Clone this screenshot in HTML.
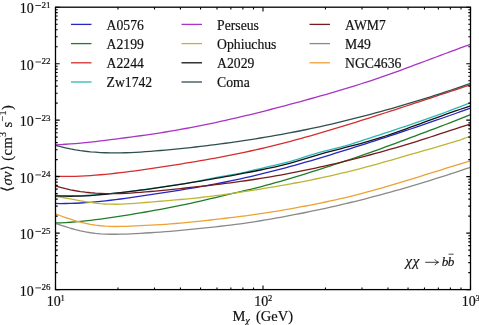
<!DOCTYPE html>
<html><head><meta charset="utf-8"><style>
html,body{margin:0;padding:0;background:#fff;width:479px;height:325px;overflow:hidden}
svg{display:block;will-change:transform;filter:blur(0.3px)}
text{font-family:"Liberation Serif",serif;fill:#111;stroke:#111;stroke-width:0.18px}
</style></head><body>
<svg width="479" height="325" viewBox="0 0 479 325">
<g fill="none" stroke-width="1.3" stroke-linejoin="round">
<path d="M55.50,203.45 L60.50,203.53 L65.50,203.51 L70.50,203.41 L75.50,203.23 L80.50,202.98 L85.50,202.66 L90.50,202.28 L95.50,201.84 L100.50,201.35 L105.50,200.81 L110.50,200.24 L115.50,199.63 L120.50,199.00 L125.50,198.33 L130.50,197.65 L135.50,196.94 L140.50,196.21 L145.50,195.47 L150.50,194.72 L155.50,193.96 L160.50,193.19 L165.50,192.41 L170.50,191.63 L175.50,190.84 L180.50,190.04 L185.50,189.23 L190.50,188.40 L195.50,187.55 L200.50,186.68 L205.50,185.80 L210.50,184.89 L215.50,183.95 L220.50,182.99 L225.50,181.99 L230.50,180.97 L235.50,179.92 L240.50,178.83 L245.50,177.71 L250.50,176.56 L255.50,175.38 L260.50,174.17 L265.50,172.94 L270.50,171.69 L275.50,170.42 L280.50,169.11 L285.50,167.79 L290.50,166.43 L295.50,165.05 L300.50,163.64 L305.50,162.21 L310.50,160.76 L315.50,159.29 L320.50,157.80 L325.50,156.30 L330.50,154.78 L335.50,153.24 L340.50,151.70 L345.50,150.14 L350.50,148.57 L355.50,146.98 L360.50,145.39 L365.50,143.79 L370.50,142.18 L375.50,140.56 L380.50,138.93 L385.50,137.30 L390.50,135.66 L395.50,134.01 L400.50,132.35 L405.50,130.68 L410.50,129.00 L415.50,127.32 L420.50,125.62 L425.50,123.92 L430.50,122.20 L435.50,120.48 L440.50,118.75 L445.50,117.01 L450.50,115.26 L455.50,113.50 L460.50,111.73 L465.50,109.95 L470.50,108.16" stroke="#2626c0"/>
<path d="M55.50,222.99 L60.50,222.82 L65.50,222.57 L70.50,222.25 L75.50,221.86 L80.50,221.41 L85.50,220.89 L90.50,220.33 L95.50,219.72 L100.50,219.06 L105.50,218.37 L110.50,217.65 L115.50,216.91 L120.50,216.14 L125.50,215.35 L130.50,214.53 L135.50,213.70 L140.50,212.85 L145.50,211.99 L150.50,211.10 L155.50,210.21 L160.50,209.30 L165.50,208.38 L170.50,207.44 L175.50,206.48 L180.50,205.48 L185.50,204.45 L190.50,203.37 L195.50,202.24 L200.50,201.08 L205.50,199.89 L210.50,198.70 L215.50,197.52 L220.50,196.34 L225.50,195.16 L230.50,193.99 L235.50,192.82 L240.50,191.64 L245.50,190.46 L250.50,189.26 L255.50,188.03 L260.50,186.77 L265.50,185.47 L270.50,184.12 L275.50,182.73 L280.50,181.31 L285.50,179.85 L290.50,178.36 L295.50,176.85 L300.50,175.32 L305.50,173.76 L310.50,172.19 L315.50,170.61 L320.50,169.02 L325.50,167.42 L330.50,165.81 L335.50,164.19 L340.50,162.56 L345.50,160.91 L350.50,159.25 L355.50,157.56 L360.50,155.86 L365.50,154.13 L370.50,152.38 L375.50,150.60 L380.50,148.80 L385.50,146.98 L390.50,145.14 L395.50,143.28 L400.50,141.42 L405.50,139.55 L410.50,137.67 L415.50,135.79 L420.50,133.92 L425.50,132.04 L430.50,130.17 L435.50,128.30 L440.50,126.41 L445.50,124.51 L450.50,122.60 L455.50,120.67 L460.50,118.71 L465.50,116.72 L470.50,114.69" stroke="#1f7d26"/>
<path d="M55.50,176.27 L60.50,176.39 L65.50,176.43 L70.50,176.39 L75.50,176.28 L80.50,176.09 L85.50,175.85 L90.50,175.54 L95.50,175.17 L100.50,174.75 L105.50,174.29 L110.50,173.79 L115.50,173.25 L120.50,172.67 L125.50,172.07 L130.50,171.43 L135.50,170.77 L140.50,170.08 L145.50,169.38 L150.50,168.65 L155.50,167.91 L160.50,167.16 L165.50,166.39 L170.50,165.62 L175.50,164.83 L180.50,164.03 L185.50,163.22 L190.50,162.40 L195.50,161.55 L200.50,160.70 L205.50,159.82 L210.50,158.93 L215.50,158.02 L220.50,157.10 L225.50,156.15 L230.50,155.17 L235.50,154.17 L240.50,153.15 L245.50,152.09 L250.50,151.01 L255.50,149.89 L260.50,148.75 L265.50,147.57 L270.50,146.37 L275.50,145.13 L280.50,143.87 L285.50,142.58 L290.50,141.26 L295.50,139.92 L300.50,138.56 L305.50,137.17 L310.50,135.77 L315.50,134.34 L320.50,132.89 L325.50,131.42 L330.50,129.94 L335.50,128.44 L340.50,126.92 L345.50,125.39 L350.50,123.85 L355.50,122.29 L360.50,120.72 L365.50,119.15 L370.50,117.56 L375.50,115.96 L380.50,114.36 L385.50,112.75 L390.50,111.13 L395.50,109.51 L400.50,107.88 L405.50,106.25 L410.50,104.61 L415.50,102.97 L420.50,101.33 L425.50,99.68 L430.50,98.03 L435.50,96.38 L440.50,94.73 L445.50,93.08 L450.50,91.43 L455.50,89.78 L460.50,88.13 L465.50,86.48 L470.50,84.83" stroke="#d42e2e"/>
<path d="M55.50,195.35 L60.50,195.59 L65.50,195.73 L70.50,195.79 L75.50,195.76 L80.50,195.66 L85.50,195.48 L90.50,195.23 L95.50,194.92 L100.50,194.55 L105.50,194.12 L110.50,193.65 L115.50,193.12 L120.50,192.56 L125.50,191.96 L130.50,191.33 L135.50,190.68 L140.50,190.00 L145.50,189.30 L150.50,188.59 L155.50,187.87 L160.50,187.15 L165.50,186.42 L170.50,185.69 L175.50,184.95 L180.50,184.18 L185.50,183.40 L190.50,182.57 L195.50,181.71 L200.50,180.75 L205.50,179.70 L210.50,178.63 L215.50,177.62 L220.50,176.67 L225.50,175.77 L230.50,174.90 L235.50,174.04 L240.50,173.12 L245.50,172.06 L250.50,170.91 L255.50,169.72 L260.50,168.53 L265.50,167.38 L270.50,166.24 L275.50,165.10 L280.50,163.91 L285.50,162.65 L290.50,161.29 L295.50,159.82 L300.50,158.27 L305.50,156.68 L310.50,155.11 L315.50,153.60 L320.50,152.19 L325.50,150.90 L330.50,149.69 L335.50,148.47 L340.50,147.18 L345.50,145.76 L350.50,144.26 L355.50,142.69 L360.50,141.09 L365.50,139.47 L370.50,137.83 L375.50,136.19 L380.50,134.56 L385.50,132.92 L390.50,131.27 L395.50,129.62 L400.50,127.96 L405.50,126.29 L410.50,124.60 L415.50,122.90 L420.50,121.18 L425.50,119.44 L430.50,117.68 L435.50,115.90 L440.50,114.09 L445.50,112.25 L450.50,110.37 L455.50,108.47 L460.50,106.53 L465.50,104.55 L470.50,102.54" stroke="#2cb6b6"/>
<path d="M55.50,144.81 L60.50,144.53 L65.50,144.24 L70.50,143.92 L75.50,143.56 L80.50,143.14 L85.50,142.66 L90.50,142.13 L95.50,141.56 L100.50,140.95 L105.50,140.32 L110.50,139.69 L115.50,139.05 L120.50,138.40 L125.50,137.75 L130.50,137.10 L135.50,136.43 L140.50,135.74 L145.50,135.04 L150.50,134.32 L155.50,133.57 L160.50,132.80 L165.50,132.00 L170.50,131.17 L175.50,130.31 L180.50,129.42 L185.50,128.51 L190.50,127.58 L195.50,126.61 L200.50,125.62 L205.50,124.61 L210.50,123.58 L215.50,122.52 L220.50,121.44 L225.50,120.33 L230.50,119.21 L235.50,118.06 L240.50,116.90 L245.50,115.71 L250.50,114.51 L255.50,113.28 L260.50,112.04 L265.50,110.78 L270.50,109.50 L275.50,108.21 L280.50,106.90 L285.50,105.58 L290.50,104.24 L295.50,102.89 L300.50,101.52 L305.50,100.14 L310.50,98.75 L315.50,97.35 L320.50,95.93 L325.50,94.51 L330.50,93.07 L335.50,91.61 L340.50,90.14 L345.50,88.64 L350.50,87.12 L355.50,85.58 L360.50,84.00 L365.50,82.40 L370.50,80.76 L375.50,79.08 L380.50,77.37 L385.50,75.63 L390.50,73.87 L395.50,72.08 L400.50,70.27 L405.50,68.44 L410.50,66.59 L415.50,64.73 L420.50,62.87 L425.50,60.99 L430.50,59.12 L435.50,57.24 L440.50,55.36 L445.50,53.49 L450.50,51.63 L455.50,49.78 L460.50,47.94 L465.50,46.12 L470.50,44.31" stroke="#a834c4"/>
<path d="M55.50,196.28 L60.50,197.09 L65.50,198.01 L70.50,198.98 L75.50,199.96 L80.50,200.89 L85.50,201.74 L90.50,202.48 L95.50,203.12 L100.50,203.62 L105.50,203.98 L110.50,204.19 L115.50,204.23 L120.50,204.14 L125.50,203.94 L130.50,203.65 L135.50,203.29 L140.50,202.91 L145.50,202.51 L150.50,202.10 L155.50,201.68 L160.50,201.26 L165.50,200.83 L170.50,200.40 L175.50,199.96 L180.50,199.50 L185.50,199.03 L190.50,198.54 L195.50,198.03 L200.50,197.50 L205.50,196.93 L210.50,196.34 L215.50,195.71 L220.50,195.06 L225.50,194.37 L230.50,193.66 L235.50,192.93 L240.50,192.18 L245.50,191.41 L250.50,190.63 L255.50,189.83 L260.50,189.03 L265.50,188.22 L270.50,187.40 L275.50,186.56 L280.50,185.71 L285.50,184.83 L290.50,183.93 L295.50,183.00 L300.50,182.04 L305.50,181.05 L310.50,180.04 L315.50,179.01 L320.50,177.95 L325.50,176.87 L330.50,175.76 L335.50,174.63 L340.50,173.47 L345.50,172.29 L350.50,171.07 L355.50,169.83 L360.50,168.55 L365.50,167.24 L370.50,165.90 L375.50,164.52 L380.50,163.12 L385.50,161.70 L390.50,160.26 L395.50,158.81 L400.50,157.35 L405.50,155.90 L410.50,154.46 L415.50,153.02 L420.50,151.60 L425.50,150.19 L430.50,148.78 L435.50,147.36 L440.50,145.93 L445.50,144.48 L450.50,142.98 L455.50,141.43 L460.50,139.78 L465.50,137.98 L470.50,135.98" stroke="#bcb634"/>
<path d="M55.50,195.83 L60.50,196.06 L65.50,196.21 L70.50,196.25 L75.50,196.21 L80.50,196.07 L85.50,195.84 L90.50,195.53 L95.50,195.15 L100.50,194.72 L105.50,194.24 L110.50,193.72 L115.50,193.19 L120.50,192.63 L125.50,192.05 L130.50,191.45 L135.50,190.82 L140.50,190.18 L145.50,189.52 L150.50,188.83 L155.50,188.13 L160.50,187.41 L165.50,186.67 L170.50,185.91 L175.50,185.13 L180.50,184.34 L185.50,183.54 L190.50,182.72 L195.50,181.89 L200.50,181.04 L205.50,180.19 L210.50,179.33 L215.50,178.46 L220.50,177.57 L225.50,176.68 L230.50,175.78 L235.50,174.86 L240.50,173.92 L245.50,172.97 L250.50,172.00 L255.50,171.01 L260.50,170.00 L265.50,168.96 L270.50,167.89 L275.50,166.78 L280.50,165.60 L285.50,164.34 L290.50,163.01 L295.50,161.58 L300.50,160.09 L305.50,158.57 L310.50,157.04 L315.50,155.53 L320.50,154.07 L325.50,152.68 L330.50,151.34 L335.50,150.04 L340.50,148.76 L345.50,147.49 L350.50,146.21 L355.50,144.91 L360.50,143.57 L365.50,142.18 L370.50,140.73 L375.50,139.21 L380.50,137.63 L385.50,136.00 L390.50,134.31 L395.50,132.58 L400.50,130.82 L405.50,129.03 L410.50,127.22 L415.50,125.39 L420.50,123.56 L425.50,121.73 L430.50,119.90 L435.50,118.08 L440.50,116.27 L445.50,114.48 L450.50,112.71 L455.50,110.96 L460.50,109.24 L465.50,107.55 L470.50,105.90" stroke="#141414"/>
<path d="M55.50,145.26 L60.50,146.63 L65.50,147.84 L70.50,148.90 L75.50,149.82 L80.50,150.60 L85.50,151.26 L90.50,151.80 L95.50,152.22 L100.50,152.54 L105.50,152.76 L110.50,152.88 L115.50,152.92 L120.50,152.88 L125.50,152.76 L130.50,152.58 L135.50,152.34 L140.50,152.05 L145.50,151.72 L150.50,151.35 L155.50,150.94 L160.50,150.51 L165.50,150.07 L170.50,149.60 L175.50,149.12 L180.50,148.61 L185.50,148.09 L190.50,147.55 L195.50,146.99 L200.50,146.41 L205.50,145.82 L210.50,145.20 L215.50,144.57 L220.50,143.91 L225.50,143.24 L230.50,142.55 L235.50,141.84 L240.50,141.11 L245.50,140.36 L250.50,139.59 L255.50,138.80 L260.50,137.99 L265.50,137.16 L270.50,136.31 L275.50,135.44 L280.50,134.55 L285.50,133.64 L290.50,132.70 L295.50,131.74 L300.50,130.75 L305.50,129.74 L310.50,128.71 L315.50,127.64 L320.50,126.56 L325.50,125.44 L330.50,124.30 L335.50,123.13 L340.50,121.94 L345.50,120.72 L350.50,119.48 L355.50,118.22 L360.50,116.93 L365.50,115.62 L370.50,114.29 L375.50,112.94 L380.50,111.57 L385.50,110.18 L390.50,108.77 L395.50,107.34 L400.50,105.89 L405.50,104.42 L410.50,102.93 L415.50,101.42 L420.50,99.88 L425.50,98.33 L430.50,96.76 L435.50,95.17 L440.50,93.55 L445.50,91.91 L450.50,90.25 L455.50,88.57 L460.50,86.86 L465.50,85.13 L470.50,83.38" stroke="#2f4f4f"/>
<path d="M55.50,185.91 L60.50,187.37 L65.50,188.66 L70.50,189.78 L75.50,190.75 L80.50,191.56 L85.50,192.23 L90.50,192.76 L95.50,193.16 L100.50,193.44 L105.50,193.61 L110.50,193.67 L115.50,193.63 L120.50,193.50 L125.50,193.30 L130.50,193.03 L135.50,192.70 L140.50,192.34 L145.50,191.94 L150.50,191.51 L155.50,191.06 L160.50,190.58 L165.50,190.09 L170.50,189.58 L175.50,189.06 L180.50,188.54 L185.50,188.00 L190.50,187.47 L195.50,186.93 L200.50,186.39 L205.50,185.84 L210.50,185.27 L215.50,184.68 L220.50,184.08 L225.50,183.46 L230.50,182.81 L235.50,182.14 L240.50,181.45 L245.50,180.74 L250.50,180.00 L255.50,179.24 L260.50,178.45 L265.50,177.63 L270.50,176.79 L275.50,175.92 L280.50,175.03 L285.50,174.11 L290.50,173.17 L295.50,172.19 L300.50,171.20 L305.50,170.18 L310.50,169.13 L315.50,168.06 L320.50,166.97 L325.50,165.85 L330.50,164.71 L335.50,163.55 L340.50,162.36 L345.50,161.15 L350.50,159.91 L355.50,158.66 L360.50,157.38 L365.50,156.08 L370.50,154.75 L375.50,153.41 L380.50,152.04 L385.50,150.65 L390.50,149.24 L395.50,147.80 L400.50,146.33 L405.50,144.84 L410.50,143.33 L415.50,141.78 L420.50,140.21 L425.50,138.62 L430.50,137.00 L435.50,135.36 L440.50,133.71 L445.50,132.06 L450.50,130.41 L455.50,128.77 L460.50,127.14 L465.50,125.53 L470.50,123.94" stroke="#761c1c"/>
<path d="M55.50,223.40 L60.50,225.06 L65.50,226.70 L70.50,228.25 L75.50,229.67 L80.50,230.91 L85.50,231.93 L90.50,232.74 L95.50,233.36 L100.50,233.80 L105.50,234.09 L110.50,234.24 L115.50,234.26 L120.50,234.19 L125.50,234.03 L130.50,233.82 L135.50,233.56 L140.50,233.29 L145.50,233.01 L150.50,232.73 L155.50,232.42 L160.50,232.08 L165.50,231.70 L170.50,231.28 L175.50,230.83 L180.50,230.36 L185.50,229.88 L190.50,229.38 L195.50,228.87 L200.50,228.36 L205.50,227.85 L210.50,227.33 L215.50,226.80 L220.50,226.25 L225.50,225.69 L230.50,225.10 L235.50,224.47 L240.50,223.80 L245.50,223.09 L250.50,222.34 L255.50,221.55 L260.50,220.74 L265.50,219.90 L270.50,219.05 L275.50,218.18 L280.50,217.28 L285.50,216.36 L290.50,215.43 L295.50,214.47 L300.50,213.49 L305.50,212.49 L310.50,211.47 L315.50,210.42 L320.50,209.36 L325.50,208.27 L330.50,207.16 L335.50,206.03 L340.50,204.88 L345.50,203.70 L350.50,202.50 L355.50,201.28 L360.50,200.04 L365.50,198.77 L370.50,197.48 L375.50,196.17 L380.50,194.83 L385.50,193.47 L390.50,192.09 L395.50,190.69 L400.50,189.26 L405.50,187.82 L410.50,186.35 L415.50,184.87 L420.50,183.36 L425.50,181.83 L430.50,180.29 L435.50,178.73 L440.50,177.14 L445.50,175.54 L450.50,173.93 L455.50,172.29 L460.50,170.64 L465.50,168.97 L470.50,167.28" stroke="#8a8a8a"/>
<path d="M55.50,213.96 L60.50,215.76 L65.50,217.54 L70.50,219.24 L75.50,220.82 L80.50,222.22 L85.50,223.42 L90.50,224.40 L95.50,225.18 L100.50,225.77 L105.50,226.18 L110.50,226.42 L115.50,226.50 L120.50,226.45 L125.50,226.30 L130.50,226.09 L135.50,225.84 L140.50,225.59 L145.50,225.35 L150.50,225.12 L155.50,224.88 L160.50,224.60 L165.50,224.28 L170.50,223.92 L175.50,223.52 L180.50,223.09 L185.50,222.62 L190.50,222.13 L195.50,221.61 L200.50,221.08 L205.50,220.54 L210.50,219.98 L215.50,219.42 L220.50,218.84 L225.50,218.26 L230.50,217.66 L235.50,217.05 L240.50,216.42 L245.50,215.77 L250.50,215.10 L255.50,214.41 L260.50,213.68 L265.50,212.93 L270.50,212.16 L275.50,211.35 L280.50,210.52 L285.50,209.67 L290.50,208.79 L295.50,207.88 L300.50,206.95 L305.50,206.00 L310.50,205.03 L315.50,204.04 L320.50,203.03 L325.50,202.00 L330.50,200.94 L335.50,199.85 L340.50,198.73 L345.50,197.57 L350.50,196.36 L355.50,195.10 L360.50,193.79 L365.50,192.46 L370.50,191.09 L375.50,189.69 L380.50,188.28 L385.50,186.84 L390.50,185.39 L395.50,183.92 L400.50,182.42 L405.50,180.92 L410.50,179.39 L415.50,177.85 L420.50,176.30 L425.50,174.73 L430.50,173.16 L435.50,171.59 L440.50,170.01 L445.50,168.44 L450.50,166.89 L455.50,165.34 L460.50,163.82 L465.50,162.32 L470.50,160.85" stroke="#eca234"/>
</g>
<g fill="none" stroke-width="1.3">
<path d="M71,24.4 h20.5" stroke="#2626c0"/>
<path d="M71,43.6 h20.5" stroke="#1f7d26"/>
<path d="M71,62.8 h20.5" stroke="#d42e2e"/>
<path d="M71,82.0 h20.5" stroke="#2cb6b6"/>
<path d="M181.5,24.4 h20.5" stroke="#a834c4"/>
<path d="M181.5,43.6 h20.5" stroke="#bcb634"/>
<path d="M181.5,62.8 h20.5" stroke="#141414"/>
<path d="M181.5,82.0 h20.5" stroke="#2f4f4f"/>
<path d="M309.5,24.4 h20.5" stroke="#761c1c"/>
<path d="M309.5,43.6 h20.5" stroke="#8a8a8a"/>
<path d="M309.5,62.8 h20.5" stroke="#eca234"/>
</g>
<text x="106.6" y="29.60" font-size="13.7">A0576</text>
<text x="106.6" y="48.80" font-size="13.7">A2199</text>
<text x="106.6" y="68.00" font-size="13.7">A2244</text>
<text x="106.6" y="87.20" font-size="13.7">Zw1742</text>
<text x="217.1" y="29.60" font-size="13.7">Perseus</text>
<text x="217.1" y="48.80" font-size="13.7">Ophiuchus</text>
<text x="217.1" y="68.00" font-size="13.7">A2029</text>
<text x="217.1" y="87.20" font-size="13.7">Coma</text>
<text x="345.1" y="29.60" font-size="13.7">AWM7</text>
<text x="345.1" y="48.80" font-size="13.7">M49</text>
<text x="345.1" y="68.00" font-size="13.7">NGC4636</text>
<path d="M55.50,289.6 v-4.2 M55.50,7.2 v4.2 M263.00,289.6 v-4.2 M263.00,7.2 v4.2 M470.50,289.6 v-4.2 M470.50,7.2 v4.2 M117.96,289.6 v-2.2 M117.96,7.2 v2.2 M154.50,289.6 v-2.2 M154.50,7.2 v2.2 M180.43,289.6 v-2.2 M180.43,7.2 v2.2 M200.54,289.6 v-2.2 M200.54,7.2 v2.2 M216.97,289.6 v-2.2 M216.97,7.2 v2.2 M230.86,289.6 v-2.2 M230.86,7.2 v2.2 M242.89,289.6 v-2.2 M242.89,7.2 v2.2 M253.51,289.6 v-2.2 M253.51,7.2 v2.2 M325.46,289.6 v-2.2 M325.46,7.2 v2.2 M362.00,289.6 v-2.2 M362.00,7.2 v2.2 M387.93,289.6 v-2.2 M387.93,7.2 v2.2 M408.04,289.6 v-2.2 M408.04,7.2 v2.2 M424.47,289.6 v-2.2 M424.47,7.2 v2.2 M438.36,289.6 v-2.2 M438.36,7.2 v2.2 M450.39,289.6 v-2.2 M450.39,7.2 v2.2 M461.01,289.6 v-2.2 M461.01,7.2 v2.2 M55.5,7.20 h4.2 M470.5,7.20 h-4.2 M55.5,63.68 h4.2 M470.5,63.68 h-4.2 M55.5,120.16 h4.2 M470.5,120.16 h-4.2 M55.5,176.64 h4.2 M470.5,176.64 h-4.2 M55.5,233.12 h4.2 M470.5,233.12 h-4.2 M55.5,289.60 h4.2 M470.5,289.60 h-4.2 M55.5,46.68 h2.2 M470.5,46.68 h-2.2 M55.5,36.73 h2.2 M470.5,36.73 h-2.2 M55.5,29.68 h2.2 M470.5,29.68 h-2.2 M55.5,24.20 h2.2 M470.5,24.20 h-2.2 M55.5,19.73 h2.2 M470.5,19.73 h-2.2 M55.5,15.95 h2.2 M470.5,15.95 h-2.2 M55.5,12.67 h2.2 M470.5,12.67 h-2.2 M55.5,9.78 h2.2 M470.5,9.78 h-2.2 M55.5,103.16 h2.2 M470.5,103.16 h-2.2 M55.5,93.21 h2.2 M470.5,93.21 h-2.2 M55.5,86.16 h2.2 M470.5,86.16 h-2.2 M55.5,80.68 h2.2 M470.5,80.68 h-2.2 M55.5,76.21 h2.2 M470.5,76.21 h-2.2 M55.5,72.43 h2.2 M470.5,72.43 h-2.2 M55.5,69.15 h2.2 M470.5,69.15 h-2.2 M55.5,66.26 h2.2 M470.5,66.26 h-2.2 M55.5,159.64 h2.2 M470.5,159.64 h-2.2 M55.5,149.69 h2.2 M470.5,149.69 h-2.2 M55.5,142.64 h2.2 M470.5,142.64 h-2.2 M55.5,137.16 h2.2 M470.5,137.16 h-2.2 M55.5,132.69 h2.2 M470.5,132.69 h-2.2 M55.5,128.91 h2.2 M470.5,128.91 h-2.2 M55.5,125.63 h2.2 M470.5,125.63 h-2.2 M55.5,122.74 h2.2 M470.5,122.74 h-2.2 M55.5,216.12 h2.2 M470.5,216.12 h-2.2 M55.5,206.17 h2.2 M470.5,206.17 h-2.2 M55.5,199.12 h2.2 M470.5,199.12 h-2.2 M55.5,193.64 h2.2 M470.5,193.64 h-2.2 M55.5,189.17 h2.2 M470.5,189.17 h-2.2 M55.5,185.39 h2.2 M470.5,185.39 h-2.2 M55.5,182.11 h2.2 M470.5,182.11 h-2.2 M55.5,179.22 h2.2 M470.5,179.22 h-2.2 M55.5,272.60 h2.2 M470.5,272.60 h-2.2 M55.5,262.65 h2.2 M470.5,262.65 h-2.2 M55.5,255.60 h2.2 M470.5,255.60 h-2.2 M55.5,250.12 h2.2 M470.5,250.12 h-2.2 M55.5,245.65 h2.2 M470.5,245.65 h-2.2 M55.5,241.87 h2.2 M470.5,241.87 h-2.2 M55.5,238.59 h2.2 M470.5,238.59 h-2.2 M55.5,235.70 h2.2 M470.5,235.70 h-2.2" stroke="#000" stroke-width="1.1" fill="none"/>
<rect x="55.5" y="7.2" width="415.0" height="282.40000000000003" fill="none" stroke="#000" stroke-width="1.3"/>
<text x="33.8" y="13.40" text-anchor="end" font-size="14">10</text><path d="M35.4,5.50 h5.6" stroke="#1a1a1a" stroke-width="0.85"/><text x="41.6" y="7.70" font-size="9">21</text>
<text x="33.8" y="69.88" text-anchor="end" font-size="14">10</text><path d="M35.4,61.98 h5.6" stroke="#1a1a1a" stroke-width="0.85"/><text x="41.6" y="64.18" font-size="9">22</text>
<text x="33.8" y="126.36" text-anchor="end" font-size="14">10</text><path d="M35.4,118.46 h5.6" stroke="#1a1a1a" stroke-width="0.85"/><text x="41.6" y="120.66" font-size="9">23</text>
<text x="33.8" y="182.84" text-anchor="end" font-size="14">10</text><path d="M35.4,174.94 h5.6" stroke="#1a1a1a" stroke-width="0.85"/><text x="41.6" y="177.14" font-size="9">24</text>
<text x="33.8" y="239.32" text-anchor="end" font-size="14">10</text><path d="M35.4,231.42 h5.6" stroke="#1a1a1a" stroke-width="0.85"/><text x="41.6" y="233.62" font-size="9">25</text>
<text x="33.8" y="295.80" text-anchor="end" font-size="14">10</text><path d="M35.4,287.90 h5.6" stroke="#1a1a1a" stroke-width="0.85"/><text x="41.6" y="290.10" font-size="9">26</text>
<text x="53.80" y="305.5" text-anchor="middle" font-size="14">10</text><text x="60.40" y="300.6" font-size="8.5">1</text>
<text x="261.30" y="305.5" text-anchor="middle" font-size="14">10</text><text x="267.90" y="300.6" font-size="8.5">2</text>
<text x="468.80" y="305.5" text-anchor="middle" font-size="14">10</text><text x="475.40" y="300.6" font-size="8.5">3</text>
<text x="232.6" y="321.2" font-size="14.5">M</text><text x="245.3" y="323.6" font-size="10.5" font-style="italic">χ</text><text x="256" y="321.2" font-size="14.5">(GeV)</text>
<text transform="translate(11.6,148.3) rotate(-90)" text-anchor="middle" font-size="14.5" letter-spacing="0.4"><tspan>⟨</tspan><tspan font-style="italic">σv</tspan><tspan>⟩ (cm</tspan><tspan font-size="10" dy="-5.5">3</tspan><tspan dy="5.5"> s</tspan><tspan font-size="10" dy="-5.5">−1</tspan><tspan dy="5.5">)</tspan></text>
<text x="405.4" y="265.6" font-size="15" font-style="italic" letter-spacing="0.8">χχ</text><path d="M425.2,262.3 H438.4 M434.8,259.4 Q436,261.6 438.6,262.3 Q436,263 434.8,265.2" stroke="#1a1a1a" stroke-width="0.85" fill="none"/><text x="441.8" y="265.6" font-size="13.2" font-style="italic">b</text><text x="447.8" y="265.6" font-size="13.2" font-style="italic">b</text><path d="M448.6,254.2 h5" stroke="#1a1a1a" stroke-width="0.8"/>
</svg>
</body></html>
